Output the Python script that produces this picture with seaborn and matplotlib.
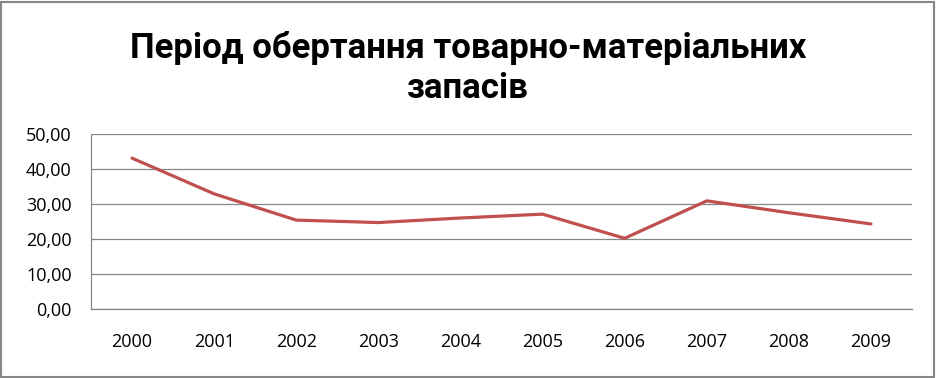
import matplotlib
matplotlib.use("Agg")
import matplotlib.pyplot as plt
import seaborn as sns
import pandas as pd
import numpy as np
from matplotlib.patches import Rectangle
from matplotlib.ticker import FixedLocator, FuncFormatter

years = ["2000", "2001", "2002", "2003", "2004", "2005", "2006", "2007", "2008", "2009"]
values = [43.1, 32.9, 25.4, 24.7, 26.0, 27.1, 20.2, 30.9, 27.5, 24.3]
yticks = [0, 10, 20, 30, 40, 50]
title_lines = ["Період обертання товарно-матеріальних", "запасів"]

sns.set_theme(style="white")
plt.rcParams["font.family"] = ["Open Sans", "DejaVu Sans"]
plt.rcParams["text.color"] = "black"

fig = plt.figure(figsize=(9.36, 3.78), dpi=100)
ax = fig.add_axes([91/936, 1-309/378, (912-91)/936, (309-134)/378])

df = pd.DataFrame({"year": years, "value": values})
sns.lineplot(data=df, x="year", y="value", ax=ax, color="#C0504D", linewidth=2.3, sort=False)

grid_c = "#868686"
ax.set_ylim(0, 50)
ax.set_xlim(-0.5, len(years) - 0.5)
ax.yaxis.set_major_locator(FixedLocator(yticks))
ax.yaxis.set_major_formatter(FuncFormatter(lambda v, p: f"{v:.2f}".replace(".", ",")))
ax.grid(axis="y", color=grid_c, linewidth=0.9)
ax.set_axisbelow(True)

ax.set_xticks(np.arange(-0.5, len(years), 1.0))
ax.set_xticklabels([])
ax.set_xticks(np.arange(len(years)), minor=True)
ax.set_xticklabels(years, minor=True)
ax.tick_params(axis="x", which="major", length=6, width=0.9, color=grid_c, direction="out")
ax.tick_params(axis="x", which="minor", length=0, pad=17, labelsize=13, labelcolor="black")
ax.tick_params(axis="y", length=5, width=0.9, color=grid_c, direction="out", pad=9, labelsize=13, labelcolor="black")

for s in ["top", "right"]:
    ax.spines[s].set_visible(False)
for s in ["left", "bottom"]:
    ax.spines[s].set_color(grid_c)
    ax.spines[s].set_linewidth(0.9)
ax.set_xlabel("")
ax.set_ylabel("")

fig.text(0.5, 1 - 58/378, title_lines[0], ha="center", va="baseline", color="black",
         fontsize=25, fontweight="bold", family=["Roboto", "DejaVu Sans"])
fig.text(0.5, 1 - 98/378, title_lines[1], ha="center", va="baseline", color="black",
         fontsize=25, fontweight="bold", family=["Roboto", "DejaVu Sans"])

fig.patches.append(Rectangle((1/936, 1/378), 933/936, 375/378, transform=fig.transFigure,
                             fill=False, edgecolor=grid_c, linewidth=1.5))

fig.savefig("out.png", dpi=100)
